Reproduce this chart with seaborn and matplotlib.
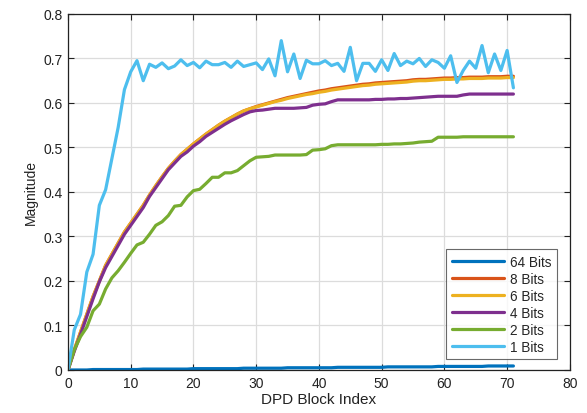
import numpy as np
import pandas as pd
import matplotlib
matplotlib.use("Agg")
import matplotlib.pyplot as plt
import seaborn as sns

block_index = list(range(72))

bits_64 = [0.000, 0.000, 0.000, 0.000, 0.001, 0.001, 0.001, 0.001, 0.001, 0.001,
           0.001, 0.001, 0.002, 0.002, 0.002, 0.002, 0.002, 0.002, 0.002, 0.002,
           0.003, 0.003, 0.003, 0.003, 0.003, 0.003, 0.003, 0.003, 0.004, 0.004,
           0.004, 0.004, 0.004, 0.004, 0.004, 0.005, 0.005, 0.005, 0.005, 0.005,
           0.005, 0.005, 0.005, 0.006, 0.006, 0.006, 0.006, 0.006, 0.006, 0.006,
           0.006, 0.007, 0.007, 0.007, 0.007, 0.007, 0.007, 0.007, 0.007, 0.008,
           0.008, 0.008, 0.008, 0.008, 0.008, 0.008, 0.008, 0.009, 0.009, 0.009,
           0.009, 0.009]

bits_8 = [0.000, 0.045, 0.085, 0.125, 0.165, 0.200, 0.235, 0.260, 0.285, 0.310,
          0.330, 0.350, 0.370, 0.393, 0.414, 0.434, 0.453, 0.469, 0.484, 0.496,
          0.508, 0.519, 0.530, 0.540, 0.550, 0.559, 0.567, 0.575, 0.582, 0.587,
          0.592, 0.596, 0.600, 0.604, 0.608, 0.612, 0.615, 0.618, 0.621, 0.624,
          0.627, 0.629, 0.632, 0.634, 0.636, 0.638, 0.640, 0.642, 0.643, 0.645,
          0.646, 0.647, 0.648, 0.649, 0.650, 0.652, 0.653, 0.653, 0.654, 0.655,
          0.656, 0.656, 0.657, 0.657, 0.658, 0.658, 0.658, 0.659, 0.659, 0.659,
          0.660, 0.660]

bits_6 = [0.000, 0.045, 0.085, 0.125, 0.165, 0.200, 0.235, 0.260, 0.285, 0.310,
          0.330, 0.350, 0.370, 0.393, 0.414, 0.434, 0.453, 0.469, 0.484, 0.496,
          0.508, 0.519, 0.530, 0.540, 0.550, 0.559, 0.567, 0.575, 0.582, 0.587,
          0.591, 0.595, 0.599, 0.603, 0.606, 0.610, 0.613, 0.616, 0.619, 0.621,
          0.624, 0.626, 0.629, 0.631, 0.633, 0.635, 0.637, 0.639, 0.640, 0.642,
          0.643, 0.644, 0.645, 0.646, 0.647, 0.649, 0.650, 0.650, 0.651, 0.652,
          0.653, 0.653, 0.654, 0.654, 0.655, 0.655, 0.655, 0.656, 0.656, 0.656,
          0.657, 0.657]

bits_4 = [0.000, 0.042, 0.080, 0.120, 0.160, 0.198, 0.230, 0.255, 0.280, 0.305,
          0.325, 0.345, 0.365, 0.390, 0.410, 0.430, 0.450, 0.465, 0.480, 0.490,
          0.503, 0.513, 0.525, 0.534, 0.543, 0.552, 0.560, 0.567, 0.574, 0.580,
          0.583, 0.584, 0.586, 0.588, 0.588, 0.588, 0.588, 0.589, 0.590, 0.595,
          0.597, 0.598, 0.603, 0.607, 0.607, 0.607, 0.607, 0.607, 0.607, 0.608,
          0.608, 0.609, 0.609, 0.610, 0.610, 0.611, 0.612, 0.613, 0.614, 0.615,
          0.615, 0.615, 0.615, 0.618, 0.620, 0.620, 0.620, 0.620, 0.620, 0.620,
          0.620, 0.620]

bits_2 = [0.000, 0.045, 0.075, 0.096, 0.133, 0.148, 0.182, 0.207, 0.223, 0.242,
          0.262, 0.281, 0.287, 0.305, 0.325, 0.333, 0.347, 0.368, 0.370, 0.389,
          0.403, 0.406, 0.419, 0.433, 0.433, 0.443, 0.443, 0.448, 0.459, 0.470,
          0.478, 0.479, 0.480, 0.483, 0.483, 0.483, 0.483, 0.483, 0.484, 0.494,
          0.495, 0.497, 0.504, 0.506, 0.506, 0.506, 0.506, 0.506, 0.506, 0.506,
          0.507, 0.507, 0.508, 0.508, 0.509, 0.510, 0.512, 0.513, 0.514, 0.523,
          0.523, 0.523, 0.523, 0.524, 0.524, 0.524, 0.524, 0.524, 0.524, 0.524,
          0.524, 0.524]

bits_1 = [0.000, 0.090, 0.125, 0.220, 0.260, 0.370, 0.405, 0.475, 0.545, 0.630,
          0.670, 0.695, 0.650, 0.687, 0.680, 0.690, 0.677, 0.683, 0.697, 0.684,
          0.691, 0.679, 0.694, 0.686, 0.686, 0.691, 0.680, 0.694, 0.682, 0.686,
          0.690, 0.675, 0.699, 0.661, 0.740, 0.670, 0.710, 0.655, 0.696, 0.688,
          0.688, 0.695, 0.684, 0.689, 0.671, 0.725, 0.650, 0.689, 0.689, 0.671,
          0.697, 0.673, 0.711, 0.684, 0.694, 0.688, 0.700, 0.682, 0.697, 0.691,
          0.678, 0.706, 0.646, 0.673, 0.694, 0.678, 0.729, 0.668, 0.710, 0.673,
          0.718, 0.634]

series_names = ["64 Bits", "8 Bits", "6 Bits", "4 Bits", "2 Bits", "1 Bits"]
series_values = [bits_64, bits_8, bits_6, bits_4, bits_2, bits_1]
colors = ["#0072BD", "#D95319", "#EDB120", "#7E2F8E", "#77AC30", "#4DBEEE"]

x_ticks = [0, 10, 20, 30, 40, 50, 60, 70, 80]
y_ticks = [0, 0.1, 0.2, 0.3, 0.4, 0.5, 0.6, 0.7, 0.8]
y_tick_labels = ["0", "0.1", "0.2", "0.3", "0.4", "0.5", "0.6", "0.7", "0.8"]

df = pd.concat(
    [pd.DataFrame({"DPD Block Index": block_index, "Magnitude": vals, "Series": name})
     for name, vals in zip(series_names, series_values)],
    ignore_index=True,
)

sns.set_theme(style="whitegrid")
plt.rcParams["font.family"] = ["Liberation Sans", "DejaVu Sans"]

fig = plt.figure(figsize=(5.87, 4.14), dpi=100)
ax = fig.add_axes([0.1158, 0.1039, 0.855, 0.860])

sns.lineplot(data=df, x="DPD Block Index", y="Magnitude", hue="Series",
             hue_order=series_names, palette=colors, linewidth=2.3, ax=ax,
             estimator=None, sort=False)

ax.set_xlim(0, 80)
ax.set_ylim(0, 0.8)
ax.set_xticks(x_ticks)
ax.set_yticks(y_ticks)
ax.set_yticklabels(y_tick_labels)
ax.grid(True, color="#dcdcdc", linewidth=0.9)
for s in ax.spines.values():
    s.set_visible(True)
    s.set_color("#222222")
    s.set_linewidth(0.9)
ax.tick_params(axis="both", direction="in", length=4, width=0.8, colors="#222222",
               labelsize=10, top=True, right=True, bottom=True, left=True, pad=4)
ax.set_facecolor("white")
ax.set_xlabel("DPD Block Index", fontsize=11, color="#222222", labelpad=2)
ax.set_ylabel("Magnitude", fontsize=10, color="#222222", labelpad=4)

handles, labels = ax.get_legend_handles_labels()
leg = ax.legend(handles, labels, loc="lower right", bbox_to_anchor=(0.975, 0.03),
                fontsize=9.8, frameon=True, fancybox=False, edgecolor="#444444",
                handlelength=3.8, handletextpad=0.5, labelspacing=0.22,
                borderpad=0.4, borderaxespad=0)
leg.get_frame().set_linewidth(0.8)
for line in leg.get_lines():
    line.set_linewidth(2.3)

fig.savefig("out.png", dpi=100)
